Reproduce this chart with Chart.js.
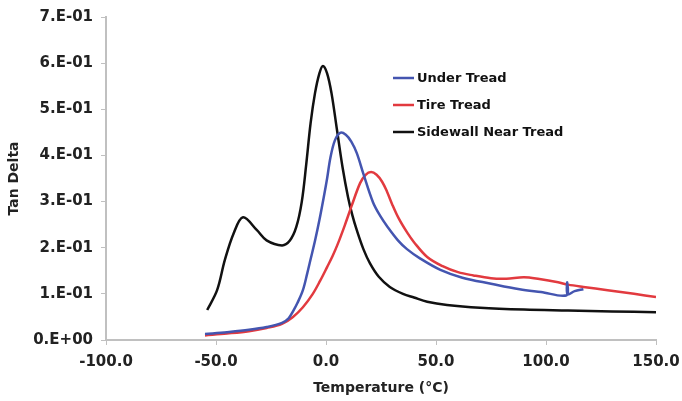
<!DOCTYPE html>
<html lang="en">
<head>
  <meta charset="UTF-8">
  <title>Tan Delta vs Temperature</title>
  <script src="https://cdn.jsdelivr.net/npm/chart.js"></script>
  <style>
    body {
      margin: 0;
      background: #ffffff;
    }
    canvas {
      display: block;
    }
  </style>
</head>
<body>
  <canvas id="tanChart" width="682" height="401"></canvas>
  <script>
    // values
    const xTicks = [-100, -50, 0, 50, 100, 150];
    const yTicks = [0, 0.1, 0.2, 0.3, 0.4, 0.5, 0.6, 0.7];

    const underTemp = [-55, -45, -35, -27, -20, -17, -15, -13, -10.5, -8.5, -7, -5, -3, -1, 0.5, 2, 4, 6.4, 9, 11.5, 14, 17, 21.4, 24.5, 28, 32.7, 36.8, 42.7, 52, 62, 75, 88, 97.7, 109.4, 109.6, 109.8, 113, 117];
    const underTan  = [0.013, 0.017, 0.022, 0.028, 0.037, 0.047, 0.062, 0.08, 0.108, 0.145, 0.175, 0.215, 0.26, 0.31, 0.35, 0.395, 0.432, 0.449, 0.445, 0.43, 0.405, 0.36, 0.298, 0.27, 0.245, 0.216, 0.197, 0.177, 0.152, 0.135, 0.122, 0.11, 0.104, 0.097, 0.125, 0.099, 0.106, 0.11];

    const treadTemp = [-55, -45, -35, -27, -20, -15, -10.5, -6, -2.7, 0.5, 3, 5.5, 8.5, 11.6, 15.5, 18, 20.5, 23, 25.5, 27.7, 30, 33, 37, 40, 46, 53, 60, 67, 75, 82, 90, 97, 105.5, 110, 117, 128, 140, 150];
    const treadTan  = [0.010, 0.014, 0.019, 0.026, 0.035, 0.05, 0.071, 0.10, 0.128, 0.158, 0.182, 0.21, 0.248, 0.29, 0.34, 0.358, 0.364, 0.358, 0.343, 0.322, 0.295, 0.264, 0.232, 0.212, 0.18, 0.16, 0.147, 0.14, 0.134, 0.133, 0.136, 0.132, 0.125, 0.12, 0.115, 0.108, 0.10, 0.093];

    const sideTemp = [-54, -49.5, -46, -42, -37.7, -31.4, -27, -20, -16.5, -13.5, -11, -9, -7, -5, -3, -1.4, 0.5, 2.5, 5, 7.5, 10, 12, 14, 17, 20, 24, 29, 35, 40, 46, 55, 70, 90, 110, 130, 150];
    const sideTan  = [0.065, 0.108, 0.173, 0.231, 0.266, 0.238, 0.216, 0.205, 0.215, 0.245, 0.30, 0.38, 0.47, 0.535, 0.578, 0.594, 0.578, 0.535, 0.455, 0.375, 0.31, 0.27, 0.238, 0.197, 0.166, 0.137, 0.115, 0.10, 0.092, 0.083, 0.076, 0.070, 0.066, 0.064, 0.062, 0.060];

    function toPoints(xs, ys) {
      return xs.map((x, i) => ({ x: x, y: ys[i] }));
    }

    // legend drawn inside the plot, like the original
    const innerLegend = {
      id: 'innerLegend',
      afterDraw(chart) {
        const ctx = chart.ctx;
        ctx.save();
        ctx.font = 'bold 13px "DejaVu Sans"';
        ctx.textBaseline = 'middle';
        chart.data.datasets.forEach((ds, i) => {
          const y = 78 + i * 27;
          ctx.strokeStyle = ds.borderColor;
          ctx.lineWidth = 2.5;
          ctx.beginPath();
          ctx.moveTo(393, y);
          ctx.lineTo(414, y);
          ctx.stroke();
          ctx.fillStyle = '#111';
          ctx.fillText(ds.label, 417, y + 1);
        });
        ctx.restore();
      }
    };

    const tickFont = { family: 'DejaVu Sans', size: 15, weight: 'bold' };

    new Chart(document.getElementById('tanChart'), {
      type: 'scatter',
      data: {
        datasets: [
          { label: 'Under Tread', data: toPoints(underTemp, underTan), borderColor: '#4455b0' },
          { label: 'Tire Tread', data: toPoints(treadTemp, treadTan), borderColor: '#e23a3f' },
          { label: 'Sidewall Near Tread', data: toPoints(sideTemp, sideTan), borderColor: '#111111' }
        ].map(ds => Object.assign(ds, {
          showLine: true,
          pointRadius: 0,
          borderWidth: 2.5,
          tension: 0.35,
          fill: false
        }))
      },
      options: {
        responsive: false,
        animation: false,
        layout: { padding: { top: 16, right: 0, left: 0, bottom: 0 } },
        plugins: {
          legend: { display: false },
          tooltip: { enabled: false }
        },
        scales: {
          x: {
            type: 'linear',
            min: -100,
            max: 150,
            afterBuildTicks: s => { s.ticks = xTicks.map(v => ({ value: v })); },
            afterFit: s => { s.height = 61; s.paddingRight = 26; },
            border: { color: '#c0c0c0', width: 2 },
            grid: { drawOnChartArea: false, tickLength: 5, color: '#c0c0c0' },
            ticks: {
              color: '#222',
              font: tickFont,
              padding: 8,
              maxRotation: 0,
              callback: v => v.toFixed(1)
            },
            title: {
              display: true,
              text: 'Temperature (°C)',
              color: '#222',
              font: { family: 'DejaVu Sans', size: 14, weight: 'bold' },
              padding: { top: 4 }
            }
          },
          y: {
            min: 0,
            max: 0.7,
            afterBuildTicks: s => { s.ticks = yTicks.map(v => ({ value: v })); },
            afterFit: s => { s.width = 106; },
            border: { color: '#c0c0c0', width: 2 },
            grid: { drawOnChartArea: false, tickLength: 5, color: '#c0c0c0' },
            ticks: {
              color: '#222',
              font: tickFont,
              padding: 8,
              callback: v => v === 0 ? '0.E+00' : Math.round(v * 10) + '.E-01'
            },
            title: {
              display: true,
              text: 'Tan Delta',
              color: '#222',
              font: { family: 'DejaVu Sans', size: 14, weight: 'bold' },
              padding: { top: 6, bottom: 0 }
            }
          }
        }
      },
      plugins: [innerLegend]
    });
  </script>
</body>
</html>
